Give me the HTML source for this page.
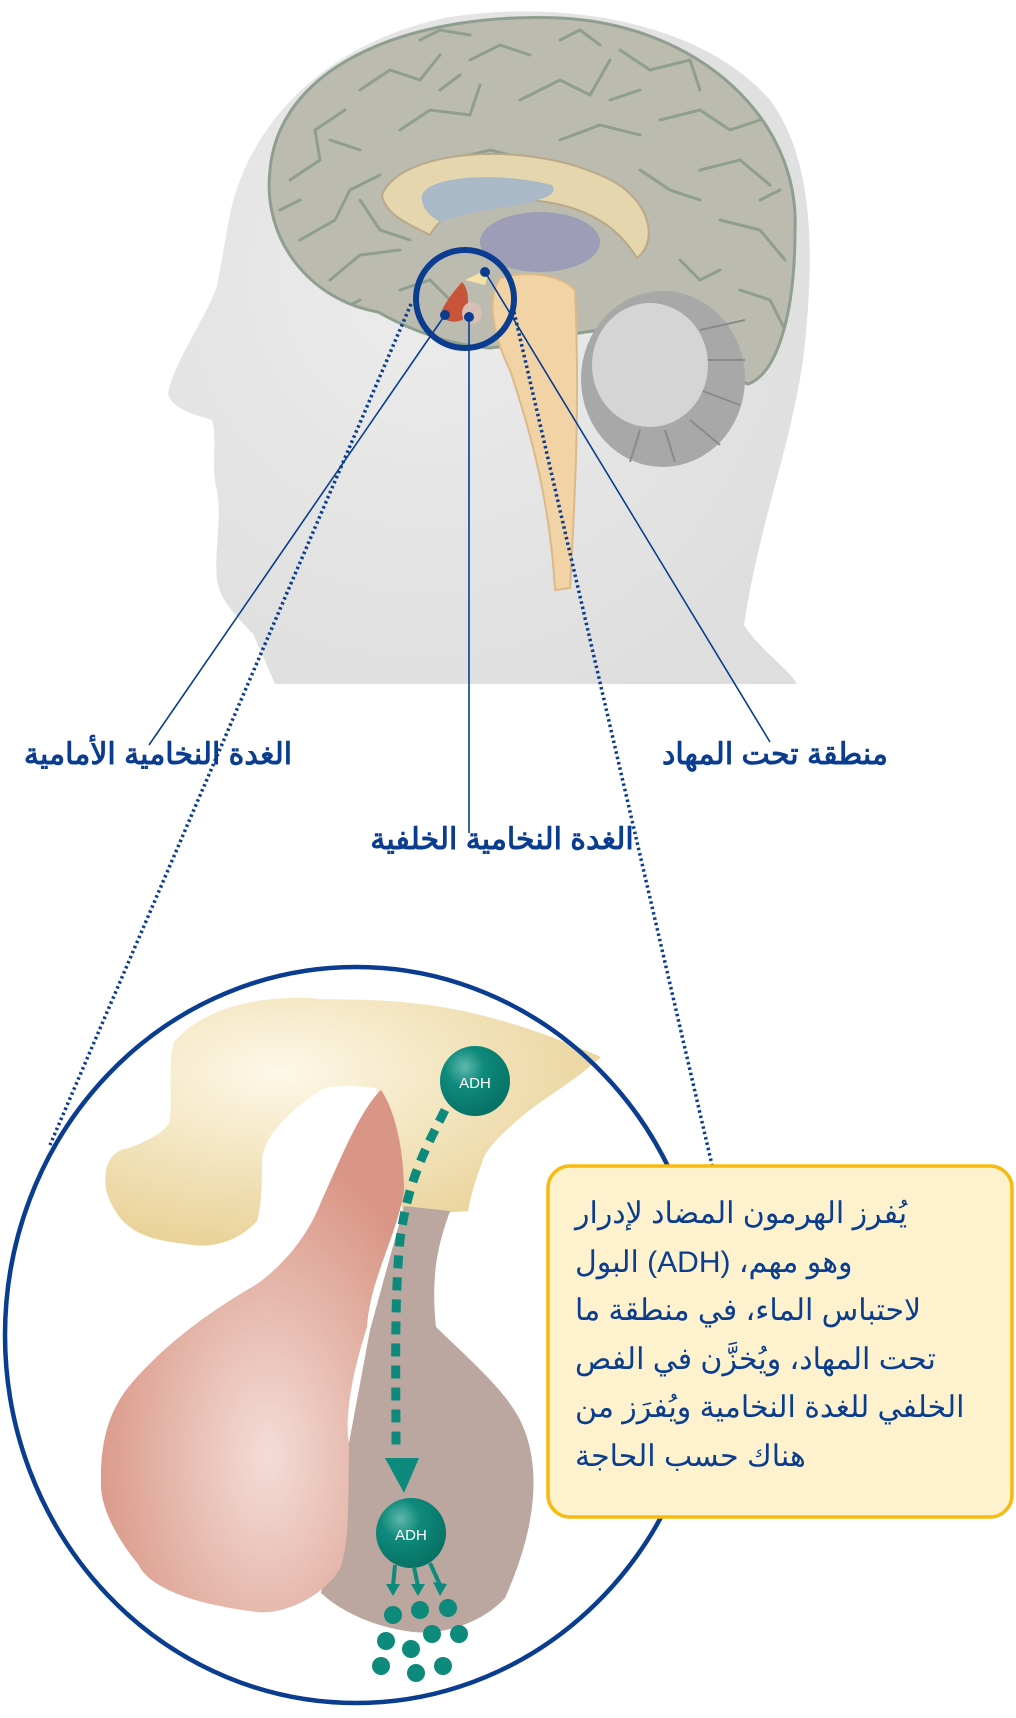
<!DOCTYPE html>
<html><head><meta charset="utf-8"><style>
html,body{margin:0;padding:0;background:#fff;}
#c{position:relative;width:1016px;height:1718px;overflow:hidden;background:#fff;}
.t{position:absolute;color:#0a3d8f;font-family:"Liberation Sans","Noto Sans CJK SC",sans-serif;white-space:nowrap;direction:rtl;}
.lbl{font-size:30px;font-weight:bold;line-height:36px;}
.bx{font-size:30px;line-height:48.5px;text-align:left;}
</style></head><body><div id="c">
<svg width="1016" height="1718" viewBox="0 0 1016 1718" style="position:absolute;left:0;top:0">
<defs>
<radialGradient id="hd" cx="0.4" cy="0.4" r="0.7"><stop offset="0" stop-color="#ececec"/><stop offset="1" stop-color="#dedede"/></radialGradient>
<radialGradient id="pk" cx="0.55" cy="0.7" r="0.6"><stop offset="0" stop-color="#f3ddd6"/><stop offset="1" stop-color="#d99585"/></radialGradient>
<radialGradient id="yl" cx="0.35" cy="0.3" r="0.7"><stop offset="0" stop-color="#fdf8e8"/><stop offset="1" stop-color="#ead39a"/></radialGradient>
<radialGradient id="ball" cx="0.35" cy="0.3" r="0.7"><stop offset="0" stop-color="#5fb8ad"/><stop offset="0.4" stop-color="#0e8a7c"/><stop offset="1" stop-color="#077366"/></radialGradient>
<clipPath id="bc"><path d="M270 170 C280 60 420 12 560 18 C700 25 800 120 795 230 C795 320 775 375 748 384 L600 330 C560 335 520 345 490 348 C450 345 410 330 378 312 C310 300 262 240 270 170 Z"/></clipPath>
</defs>
<path d="M275 684 C265 660 258 645 253 634 C235 615 220 600 217 580 C214 550 222 520 217 491 C210 465 218 440 212 420 C195 415 170 408 168 393 C175 360 205 320 217 286 C222 260 225 240 230 214 C250 120 330 40 450 17 C560 0 700 20 770 100 C815 160 815 260 803 360 C790 450 760 520 744 625 C760 650 790 670 797 684 Z" fill="url(#hd)"/>
<path d="M270 170 C280 60 420 12 560 18 C700 25 800 120 795 230 C795 320 775 375 748 384 L600 330 C560 335 520 345 490 348 C450 345 410 330 378 312 C310 300 262 240 270 170 Z" fill="#bcbbb0" stroke="#8f9f8f" stroke-width="3"/>
<g fill="none" stroke="#8f9f8f" stroke-width="3" stroke-linecap="round" clip-path="url(#bc)">
<path d="M290 180 L320 160 L315 130 L345 110"/><path d="M300 240 L335 220 L350 190 L380 175"/><path d="M330 280 L360 255 L400 250"/>
<path d="M360 90 L390 70 L420 80 L440 55"/><path d="M400 130 L430 110 L470 115 L480 85"/><path d="M470 60 L500 45 L530 55"/>
<path d="M520 100 L560 80 L590 95 L610 60"/><path d="M560 140 L600 125 L640 135"/><path d="M620 50 L650 70 L690 60 L700 90"/>
<path d="M660 120 L700 110 L730 130 L760 120"/><path d="M700 170 L740 160 L770 185"/><path d="M720 220 L760 230 L785 260"/>
<path d="M740 290 L770 300 L785 330"/><path d="M360 200 L380 230 L410 240"/><path d="M450 160 L490 150 L530 160"/>
<path d="M640 170 L670 190 L700 200"/><path d="M330 140 L360 150"/><path d="M400 290 L430 280 L450 300"/>
<path d="M420 40 L440 30 L470 35"/><path d="M560 40 L580 30 L600 45"/><path d="M280 210 L300 200"/><path d="M760 200 L780 190"/><path d="M680 260 L700 280 L720 270"/><path d="M340 310 L360 300"/><path d="M610 100 L640 90"/><path d="M440 90 L460 75"/>
</g>
<path d="M382 195 C400 150 520 140 600 175 C650 195 660 240 637 258 C620 230 590 205 530 200 C470 198 440 215 430 235 C410 225 385 215 382 195 Z" fill="#e5d6ae" stroke="#b9a98a" stroke-width="2"/>
<path d="M422 195 C430 175 500 172 552 185 C560 195 540 200 520 205 C480 210 460 215 440 222 C428 215 420 205 422 195 Z" fill="#a9b9c7"/>
<ellipse cx="540" cy="242" rx="60" ry="30" fill="#9d9db8"/>
<ellipse cx="663" cy="379" rx="82" ry="88" fill="#a8a8a8"/>
<g stroke="#8a8a8a" stroke-width="2"><line x1="700" y1="330" x2="745" y2="320"/><line x1="705" y1="360" x2="745" y2="360"/><line x1="700" y1="390" x2="740" y2="405"/><line x1="690" y1="420" x2="720" y2="445"/><line x1="665" y1="430" x2="675" y2="462"/><line x1="640" y1="430" x2="630" y2="462"/></g>
<ellipse cx="650" cy="365" rx="58" ry="62" fill="#d5d5d5"/>
<path d="M500 278 C530 270 560 275 575 290 C580 400 575 500 570 588 L555 590 C550 500 530 430 510 370 C495 340 485 300 500 278 Z" fill="#f1d3a6" stroke="#dcb988" stroke-width="2"/>
<path d="M462 282 C470 290 470 310 462 320 C450 325 440 318 442 310 C448 298 455 290 462 282 Z" fill="#c8553a"/>
<ellipse cx="472" cy="313" rx="10" ry="11" fill="#d7bfb5"/>
<path d="M465 280 L490 268 L485 285 Z" fill="#f4e2a8"/>
<circle cx="465" cy="299" r="49" fill="none" stroke="#0a3d8f" stroke-width="6"/>
<circle cx="445" cy="315" r="5" fill="#0a3d8f"/><circle cx="469" cy="317" r="5" fill="#0a3d8f"/><circle cx="485" cy="272" r="5" fill="#0a3d8f"/>
<g stroke="#0a3d8f" stroke-width="1.6" fill="none">
<line x1="445" y1="315" x2="149" y2="745"/>
<line x1="469" y1="317" x2="469" y2="833"/>
<line x1="485" y1="272" x2="770" y2="742"/>
</g>
<g stroke="#0a3d8f" stroke-width="3.5" stroke-dasharray="2.5 3" fill="none">
<line x1="411" y1="304" x2="50" y2="1145"/>
<line x1="514" y1="312" x2="712" y2="1165"/>
</g>
<path d="M174 1042 C210 1000 280 995 321 999 C400 1000 470 1000 601 1057 C570 1085 540 1100 519 1119 C500 1135 485 1150 482 1163 C475 1180 470 1200 468 1211 L404 1216 L376 1088 C350 1085 330 1085 321 1090 C290 1110 265 1135 262 1158 C262 1180 262 1205 257 1221 C240 1240 215 1248 193 1245 C150 1240 120 1235 106 1190 C102 1160 115 1150 129 1148 C150 1140 168 1130 170 1120 C172 1090 168 1060 174 1042 Z" fill="url(#yl)"/>
<path d="M404 1206 L450 1211 C440 1240 430 1270 436 1327 C470 1360 505 1390 520 1420 C540 1460 540 1520 505 1598 C480 1625 440 1635 413 1632 C380 1628 345 1615 321 1593 L370 1330 Z" fill="#bba7a0"/>
<path d="M381 1090 C395 1110 404 1150 404 1192 C395 1240 370 1280 367 1327 C350 1380 345 1420 349 1443 C348 1500 350 1540 340 1569 C320 1600 280 1615 257 1612 C200 1605 150 1590 138 1564 C110 1530 100 1500 101 1482 C100 1430 115 1400 138 1376 C180 1330 230 1300 257 1284 C290 1260 310 1230 321 1202 C340 1160 360 1110 381 1090 Z" fill="url(#pk)"/>
<path d="M445 1110 C425 1150 408 1180 400 1240 C394 1300 396 1380 396 1448" fill="none" stroke="#0e8a7c" stroke-width="9" stroke-dasharray="13 9"/>
<polygon points="385,1458 419,1458 404,1493" fill="#0e8a7c"/>
<circle cx="475" cy="1081" r="35" fill="url(#ball)"/>
<text x="475" y="1088" font-family="Liberation Sans,sans-serif" font-size="15" fill="#fff" text-anchor="middle">ADH</text>
<circle cx="411" cy="1533" r="35" fill="url(#ball)"/>
<text x="411" y="1540" font-family="Liberation Sans,sans-serif" font-size="15" fill="#fff" text-anchor="middle">ADH</text>
<g stroke="#0e8a7c" stroke-width="4"><line x1="395" y1="1565" x2="393" y2="1586"/><line x1="414" y1="1567" x2="418" y2="1586"/><line x1="430" y1="1563" x2="440" y2="1585"/></g>
<g fill="#0e8a7c"><polygon points="386,1584 400,1584 393,1596"/><polygon points="411,1584 425,1584 418,1596"/><polygon points="433,1582 447,1584 440,1596"/>
<circle cx="393" cy="1615" r="9"/><circle cx="420" cy="1610" r="9"/><circle cx="448" cy="1608" r="9"/><circle cx="386" cy="1641" r="9"/><circle cx="432" cy="1634" r="9"/><circle cx="459" cy="1634" r="9"/><circle cx="411" cy="1649" r="9"/><circle cx="381" cy="1666" r="9"/><circle cx="416" cy="1673" r="9"/><circle cx="443" cy="1666" r="9"/></g>
<ellipse cx="356" cy="1335" rx="351" ry="368" fill="none" stroke="#0a3d8f" stroke-width="4.5"/>
<rect x="548" y="1166" width="464" height="351" rx="22" fill="#fdf2cd" stroke="#f7bb10" stroke-width="3.5"/>
</svg>
<div class="t lbl" style="left:13px;top:737px;width:290px;text-align:center">الغدة النخامية الأمامية</div>
<div class="t lbl" style="left:650px;top:737px;width:250px;text-align:center">منطقة تحت المهاد</div>
<div class="t lbl" style="left:362px;top:822px;width:280px;text-align:center">الغدة النخامية الخلفية</div>
<div class="t bx" style="left:575px;top:1190px;width:420px">
<div>يُفرز الهرمون المضاد لإدرار</div>
<div>وهو مهم، (ADH) البول</div>
<div>لاحتباس الماء، في منطقة ما</div>
<div>تحت المهاد، ويُخزَّن في الفص</div>
<div>الخلفي للغدة النخامية ويُفرَز من</div>
<div>هناك حسب الحاجة</div>
</div>
</div></body></html>
